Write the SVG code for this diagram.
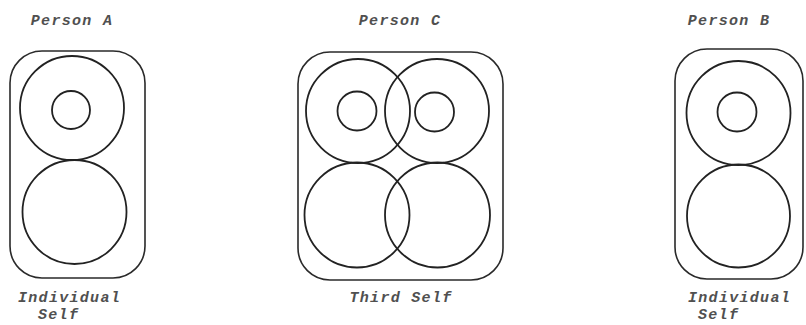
<svg xmlns="http://www.w3.org/2000/svg" width="806" height="325" viewBox="0 0 806 325">
<style>
.frame{fill:none;stroke:#2a2a2a;stroke-width:1.6}
.c{fill:none;stroke:#222;stroke-width:1.8}
.lbl{font-family:"Liberation Mono","Courier New",monospace;font-style:italic;font-weight:bold;font-size:15px;letter-spacing:1.3px;fill:#505050}
</style>
<rect width="806" height="325" fill="#fff"/>
<g id="personA">
<rect class="frame" x="10" y="51" width="135" height="227" rx="32"/>
<circle class="c" cx="72" cy="108" r="52"/>
<circle class="c" cx="71" cy="110" r="19"/>
<circle class="c" cx="74.5" cy="212" r="52"/>
<text class="lbl" x="72" y="25" text-anchor="middle">Person A</text>
<text class="lbl" x="18" y="302">Individual</text>
<text class="lbl" x="38" y="319">Self</text>
</g>
<g id="personC">
<rect class="frame" x="298" y="52" width="205" height="228" rx="32"/>
<circle class="c" cx="358" cy="111" r="52"/>
<circle class="c" cx="437" cy="111" r="52"/>
<circle class="c" cx="357" cy="111" r="19.5"/>
<circle class="c" cx="434.5" cy="112" r="19.5"/>
<circle class="c" cx="357" cy="215" r="52.5"/>
<circle class="c" cx="437.5" cy="215" r="52.5"/>
<text class="lbl" x="400" y="25" text-anchor="middle">Person C</text>
<text class="lbl" x="401" y="302" text-anchor="middle">Third Self</text>
</g>
<g id="personB">
<rect class="frame" x="675" y="49" width="128" height="230" rx="32"/>
<circle class="c" cx="738.5" cy="113" r="52"/>
<circle class="c" cx="737" cy="112" r="19.5"/>
<circle class="c" cx="738.5" cy="216" r="51.5"/>
<text class="lbl" x="729" y="25" text-anchor="middle">Person B</text>
<text class="lbl" x="688" y="302">Individual</text>
<text class="lbl" x="698" y="319">Self</text>
</g>
<g id="connectors"></g>
</svg>
